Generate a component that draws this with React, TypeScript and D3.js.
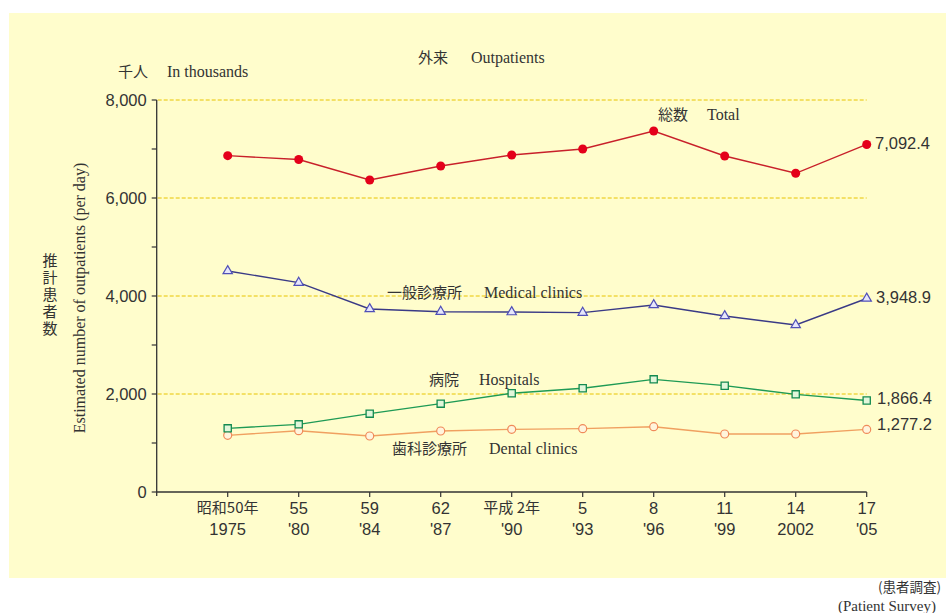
import React from "react";
import * as d3 from "d3";

const eraLabels = ["昭和50年", "55", "59", "62", "平成 2年", "5", "8", "11", "14", "17"];
const yearLabels = ["1975", "'80", "'84", "'87", "'90", "'93", "'96", "'99", "2002", "'05"];

const totalValues = [6864, 6786, 6367, 6653, 6878, 7000, 7367, 6857, 6504, 7092.4];
const clinicValues = [4510, 4272, 3735, 3680, 3673, 3660, 3816, 3592, 3408, 3948.9];
const hospitalValues = [1299, 1381, 1599, 1803, 2014, 2116, 2299, 2170, 1993, 1866.4];
const dentalValues = [1156, 1251, 1143, 1245, 1279, 1293, 1333, 1184, 1184, 1277.2];

const yTicks = [0, 1000, 2000, 3000, 4000, 5000, 6000, 7000, 8000];
const yLabelTicks = [0, 2000, 4000, 6000, 8000];
const gridTicks = [2000, 4000, 6000, 8000];

const SANS = "'Liberation Sans', Arial, sans-serif";
const SERIF = "'Liberation Serif', 'Times New Roman', serif";
const CJK = "'Noto Sans CJK JP', sans-serif";

export default function App() {
  const x = d3.scaleLinear().domain([-1, 9]).range([156.7, 866.7]);
  const y = d3.scaleLinear().domain([0, 8000]).range([492, 100]);
  const fmt = d3.format(",.1f");

  const line = d3
    .line<number>()
    .x((_, i) => x(i))
    .y((d) => y(d));

  const tri = d3.symbol().type(d3.symbolTriangle).size(38)();
  const sq = d3.symbol().type(d3.symbolSquare).size(52)();

  const x0 = x(-1);
  const xEnd = x(9);

  return (
    <svg
      width={946}
      height={613}
      style={{ position: "absolute", left: 0, top: 0, background: "#ffffff" }}
    >
      <rect x={9} y={13} width={946 - 9} height={578 - 13} fill="#FFFDCC" />

      {/* Title */}
      <text x={418} y={63} fontFamily={CJK} fontSize={15} fill="#333">外来</text>
      <text x={471} y={63} fontFamily={SERIF} fontSize={16} fill="#333">Outpatients</text>

      {/* Unit */}
      <text x={118} y={77} fontFamily={CJK} fontSize={15} fill="#333">千人</text>
      <text x={167} y={77} fontFamily={SERIF} fontSize={16} fill="#333">In thousands</text>

      {/* Grid */}
      {gridTicks.map((t) => (
        <line
          key={"g" + t}
          x1={x0 + 1}
          x2={xEnd}
          y1={y(t)}
          y2={y(t)}
          stroke="#E8C400"
          strokeWidth={1}
          strokeDasharray="4,2"
        />
      ))}

      {/* Y axis */}
      <line x1={x0} x2={x0} y1={y(8000)} y2={y(0) + 4} stroke="#333" strokeWidth={1.3} />
      {yTicks.map((t) => (
        <line key={"yt" + t} x1={x0 - 5} x2={x0} y1={y(t)} y2={y(t)} stroke="#333" strokeWidth={1.2} />
      ))}
      {yLabelTicks.map((t) => (
        <text
          key={"yl" + t}
          x={x0 - 10}
          y={y(t)}
          dy="0.36em"
          textAnchor="end"
          fontFamily={SANS}
          fontSize={16.5}
          fill="#333"
        >
          {d3.format(",")(t)}
        </text>
      ))}

      {/* Y axis titles */}
      <text
        x={50}
        y={295}
        textAnchor="middle"
        fontFamily={CJK}
        fontSize={15}
        fill="#333"
        style={{ writingMode: "vertical-rl", letterSpacing: "2px" }}
      >
        推計患者数
      </text>
      <text
        transform="translate(85,298) rotate(-90)"
        textAnchor="middle"
        fontFamily={SERIF}
        fontSize={16}
        fill="#333"
      >
        Estimated number of outpatients (per day)
      </text>

      {/* X axis */}
      <line x1={x0} x2={xEnd} y1={y(0)} y2={y(0)} stroke="#333" strokeWidth={1.3} />
      {eraLabels.map((_, i) => (
        <line key={"xt" + i} x1={x(i)} x2={x(i)} y1={y(0)} y2={y(0) + 5} stroke="#333" strokeWidth={1.2} />
      ))}
      {eraLabels.map((l, i) => (
        <text
          key={"xe" + i}
          x={x(i)}
          y={508}
          dy="0.36em"
          textAnchor="middle"
          fontFamily={/[年]/.test(l) ? CJK : SANS}
          fontSize={/[年]/.test(l) ? 15 : 16.5}
          fill="#333"
        >
          {l}
        </text>
      ))}
      {yearLabels.map((l, i) => (
        <text
          key={"xy" + i}
          x={x(i)}
          y={529}
          dy="0.36em"
          textAnchor="middle"
          fontFamily={SANS}
          fontSize={16.5}
          fill="#333"
        >
          {l}
        </text>
      ))}

      {/* Lines */}
      <path d={line(dentalValues) || ""} fill="none" stroke="#F0A060" strokeWidth={1.4} />
      <path d={line(hospitalValues) || ""} fill="none" stroke="#1E9A55" strokeWidth={1.4} />
      <path d={line(clinicValues) || ""} fill="none" stroke="#3A3A86" strokeWidth={1.4} />
      <path d={line(totalValues) || ""} fill="none" stroke="#C8202A" strokeWidth={1.4} />

      {/* Markers */}
      {dentalValues.map((v, i) => (
        <circle key={"dm" + i} cx={x(i)} cy={y(v)} r={4} fill="#FFF4DC" stroke="#F08A5A" strokeWidth={1.2} />
      ))}
      {hospitalValues.map((v, i) => (
        <path
          key={"hm" + i}
          d={sq || ""}
          transform={`translate(${x(i)},${y(v)})`}
          fill="#E2F6DA"
          stroke="#138A50"
          strokeWidth={1.3}
        />
      ))}
      {clinicValues.map((v, i) => (
        <path
          key={"cm" + i}
          d={tri || ""}
          transform={`translate(${x(i)},${y(v)})`}
          fill="#E6E6FA"
          stroke="#5050B8"
          strokeWidth={1.2}
        />
      ))}
      {totalValues.map((v, i) => (
        <circle key={"tm" + i} cx={x(i)} cy={y(v)} r={4.5} fill="#E4001A" />
      ))}

      {/* Series labels */}
      <text x={658} y={120} fontFamily={CJK} fontSize={15} fill="#333">総数</text>
      <text x={707} y={120} fontFamily={SERIF} fontSize={16} fill="#333">Total</text>

      <text x={387} y={298} fontFamily={CJK} fontSize={15} fill="#333">一般診療所</text>
      <text x={484} y={298} fontFamily={SERIF} fontSize={16} fill="#333">Medical clinics</text>

      <text x={429} y={385} fontFamily={CJK} fontSize={15} fill="#333">病院</text>
      <text x={479} y={385} fontFamily={SERIF} fontSize={16} fill="#333">Hospitals</text>

      <text x={392} y={454} fontFamily={CJK} fontSize={15} fill="#333">歯科診療所</text>
      <text x={489} y={454} fontFamily={SERIF} fontSize={16} fill="#333">Dental clinics</text>

      {/* End value labels */}
      <text x={875} y={143} dy="0.36em" fontFamily={SANS} fontSize={16.5} fill="#333">{fmt(totalValues[9])}</text>
      <text x={876} y={297} dy="0.36em" fontFamily={SANS} fontSize={16.5} fill="#333">{fmt(clinicValues[9])}</text>
      <text x={877} y={398} dy="0.36em" fontFamily={SANS} fontSize={16.5} fill="#333">{fmt(hospitalValues[9])}</text>
      <text x={877} y={424} dy="0.36em" fontFamily={SANS} fontSize={16.5} fill="#333">{fmt(dentalValues[9])}</text>

      {/* Source */}
      <text x={878} y={592} fontFamily={CJK} fontSize={13.5} fill="#333">(患者調査)</text>
      <text x={838} y={611} fontFamily={SERIF} fontSize={15} fill="#333">(Patient Survey)</text>
    </svg>
  );
}
